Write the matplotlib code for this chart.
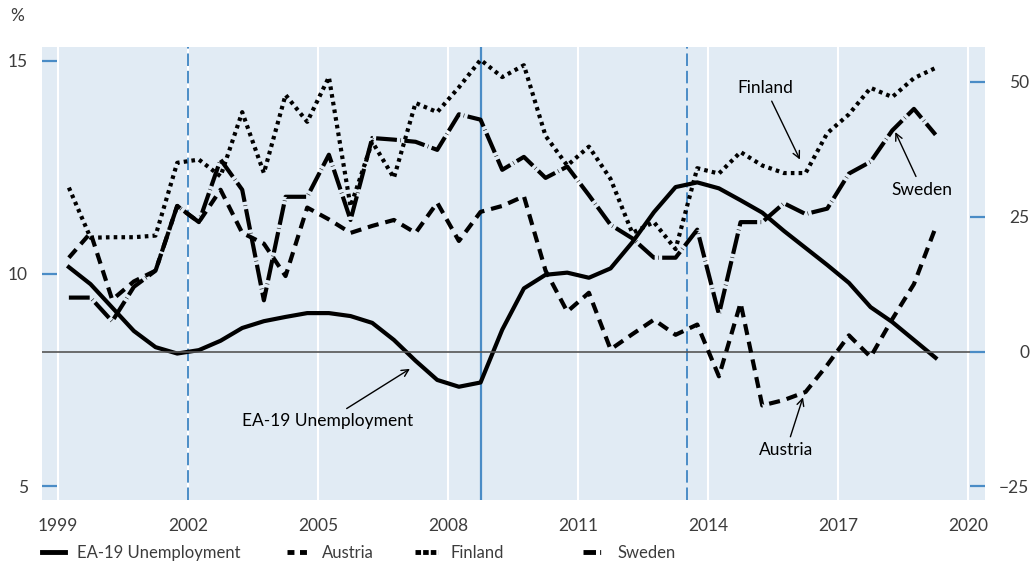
import numpy as np
import matplotlib
matplotlib.use("Agg")
import matplotlib.pyplot as plt
from matplotlib.lines import Line2D

plt.rcParams['font.family'] = ['Lato', 'DejaVu Sans']
plt.rcParams['lines.scale_dashes'] = False

# half-yearly observations, 1999H1 .. 2019H1
dates = np.arange(1999.25, 2019.3, 0.5)

ea19 = [10.15, 9.75, 9.2, 8.65, 8.27, 8.12, 8.2, 8.42, 8.72, 8.88,
        8.98, 9.07, 9.07, 9.0, 8.84, 8.44, 7.95, 7.5, 7.34, 7.44,
        8.68, 9.65, 9.97, 10.02, 9.9, 10.12, 10.73, 11.44, 12.03, 12.14,
        12.0, 11.72, 11.43, 11.0, 10.6, 10.2, 9.78, 9.21, 8.86, 8.44, 8.02]

austria = [17.4, 22, 9.6, 13, 15, 27, 24, 30, 22, 20,
           14, 26.7, 24.5, 22, 23.3, 24.4, 22, 27.6, 20.5, 25.9,
           27, 28.8, 15, 7.4, 10.9, 0.4, 3.2, 5.9, 3.1, 5,
           -4.6, 9, -10, -9, -7.5, -2.5, 3, -1, 6, 12.5, 23]

finland = [30.4, 21.1, 21.2, 21.2, 21.5, 35, 35.6, 32.5, 44.4, 33.1,
           47.6, 42.6, 50.9, 26.9, 38.9, 32.2, 46.1, 44.4, 49, 54.1,
           50.9, 53.1, 40, 34.5, 38, 32, 22, 24, 19, 34,
           33, 37, 34.5, 33.1, 33.1, 40.5, 44, 48.9, 47.2, 50.7, 52.6]

sweden = [10, 10, 5.6, 12, 15, 27, 24, 35.6, 30, 9.5,
          28.7, 28.7, 36.5, 24.4, 39.6, 39.3, 38.9, 37.4, 44, 43,
          33.7, 36.1, 32.2, 34.3, 29, 23.5, 21, 17.4, 17.4, 22.6,
          6.9, 24, 24, 27.5, 25.5, 26.5, 33, 35.2, 41, 45, 40.2]

year_ticks = [1999, 2002, 2005, 2008, 2011, 2014, 2017, 2020]
left_ticks = [5, 10, 15]
right_ticks = [-25, 0, 25, 50]
right_labels = ['\u221225', '0', '25', '50']
event_dashed = [2002.0, 2013.52]
event_solid = [2008.76]

bg = '#e1ebf4'
blue = '#4a8cc6'
txt = '#3c3c3c'

fig = plt.figure(figsize=(10.36, 5.66), dpi=100)
ax = fig.add_axes([42 / 1036, 66 / 566, 943 / 1036, 453 / 566])
ax.set_facecolor(bg)
ax2 = ax.twinx()

ax.set_xlim(1998.63, 2020.39)
ax.set_ylim(4.68, 15.32)
ax2.set_ylim(-27.54, 56.48)

for y in year_ticks:
    ax.axvline(y, color='white', lw=1.5, zorder=1)
for x in event_dashed:
    ax.axvline(x, color=blue, lw=1.4, dashes=(9, 3.5), zorder=2)
for x in event_solid:
    ax.axvline(x, color=blue, lw=1.6, zorder=2)

ax2.axhline(0, color='#555555', lw=1.2, zorder=1)

ax.plot(dates, ea19, color='black', lw=3, solid_joinstyle='round', zorder=5)
ax2.plot(dates, austria, color='black', lw=3, dashes=(8, 5), dash_capstyle='butt', zorder=5)
ax2.plot(dates, finland, color='black', lw=3, dashes=(2.6, 3), dash_capstyle='butt', zorder=5)
ax2.plot(dates, sweden, color='black', lw=3, dashes=(15, 2.5, 0.4, 2.5), dash_capstyle='butt', zorder=5)

for s in ax.spines.values():
    s.set_visible(False)
for s in ax2.spines.values():
    s.set_visible(False)

ax.set_xticks(year_ticks)
ax.set_xticklabels([str(y) for y in year_ticks])
ax.tick_params(axis='x', length=0, pad=13, labelsize=12.5, labelcolor=txt)
ax.set_yticks(left_ticks)
ax.tick_params(axis='y', direction='in', length=11, width=1.6, color=blue, pad=10,
               labelsize=12.5, labelcolor=txt)
ax2.set_yticks(right_ticks)
ax2.set_yticklabels(right_labels)
ax2.tick_params(axis='y', direction='in', length=11, width=1.6, color=blue, pad=32,
                labelsize=12.5, labelcolor=txt)
for t in ax2.get_yticklabels():
    t.set_horizontalalignment('right')

fig.text(10 / 1036, 1 - 16 / 566, '%', fontsize=12.5, color=txt, va='center')

arrow = dict(arrowstyle='->', color='black', lw=1.0, shrinkA=2, shrinkB=0)
ax2.annotate('Finland', xy=(2016.12, 35.6), xytext=(2015.32, 48.9), fontsize=12.5,
             ha='center', va='center', arrowprops=arrow, zorder=6)
ax2.annotate('Sweden', xy=(2018.32, 40.7), xytext=(2018.94, 30.0), fontsize=12.5,
             ha='center', va='center', arrowprops=arrow, zorder=6)
ax2.annotate('Austria', xy=(2016.19, -8.5), xytext=(2015.8, -18.3), fontsize=12.5,
             ha='center', va='center', arrowprops=arrow, zorder=6)
ax.annotate('EA-19 Unemployment', xy=(2007.12, 7.76), xytext=(2005.21, 6.54), fontsize=12.5,
            ha='center', va='center', arrowprops=arrow, zorder=6)

# legend keys are shorter than the plotted dash patterns, so use proxies
names = ['EA-19 Unemployment', 'Austria', 'Finland', 'Sweden']
leg_handles = [
    Line2D([], [], color='black', lw=3.5),
    Line2D([], [], color='black', lw=3.5, dashes=(5, 4), dash_capstyle='butt'),
    Line2D([], [], color='black', lw=3.5, dashes=(4, 1.5), dash_capstyle='butt'),
    Line2D([], [], color='black', lw=3.5, dashes=(9, 3, 0.7, 20), dash_capstyle='butt'),
]
leg_x = [42, 287, 415, 583]
for h, n, x in zip(leg_handles, names, leg_x):
    fig.legend([h], [n], loc='center left', bbox_to_anchor=(x / 1036, 1 - 553 / 566),
               frameon=False, handlelength=1.35, handletextpad=0.75, borderpad=0,
               borderaxespad=0, fontsize=12, labelcolor=txt)

fig.savefig('out.png', dpi=100)
